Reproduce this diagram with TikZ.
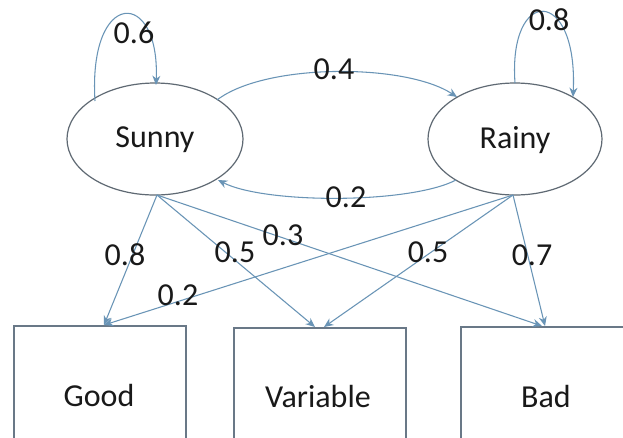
\documentclass[tikz,border=0pt]{standalone}
\usepackage{fontspec}
\setmainfont{Carlito}
\usetikzlibrary{arrows.meta}
\definecolor{arrowcol}{RGB}{105,148,182}
\definecolor{ellcol}{RGB}{95,105,115}
\definecolor{boxcol}{RGB}{105,120,135}
\definecolor{txtcol}{RGB}{25,25,25}
\begin{document}
\begin{tikzpicture}[x=0.75pt,y=-0.75pt,
  outbox/.style={draw=boxcol,line width=1pt,rectangle,inner sep=0pt},
  arr/.style={draw=arrowcol,line width=0.8pt,-{Stealth[length=7pt,width=6pt]}},
  lbl/.style={text=txtcol,font=\fontsize{24}{28}\selectfont,inner sep=0pt},
  nm/.style={text=txtcol,font=\fontsize{24}{28}\selectfont,inner sep=0pt}]
\clip (0,0) rectangle (623,437);
\fill[white] (0,0) rectangle (623,437);
% ellipses
\draw[draw=ellcol,line width=0.9pt] (155,139) ellipse [x radius=88,y radius=56];
\draw[draw=ellcol,line width=0.9pt] (515,139) ellipse [x radius=87,y radius=56];
\node[nm] (sunny) at (155,140) {Sunny};
\node[nm] (rainy) at (515,140) {Rainy};
% boxes
\draw[outbox] (14,326) rectangle (186,460);
\draw[outbox] (234,328) rectangle (406,460);
\draw[outbox] (461,327) rectangle (640,460);
\node[nm] (good) at (99,395) {Good};
\node[nm] (variable) at (318,396) {Variable};
\node[nm] (bad) at (546,396) {Bad};
% anchor coordinates
\coordinate (sb) at (157,195);
\coordinate (rb) at (513,195);
\coordinate (gt) at (104,325);
\coordinate (vt1) at (315,327);
\coordinate (vt2) at (324,327);
\coordinate (bt1) at (542,326);
\coordinate (bt2) at (545,326);
\coordinate (sl1) at (95,101);
\coordinate (sl2) at (156,85);
\coordinate (rl1) at (515,83);
\coordinate (rl2) at (573,97);
\coordinate (s2r1) at (217,100);
\coordinate (s2r2) at (457,97);
\coordinate (r2s1) at (456,180);
\coordinate (r2s2) at (218,180);
% self loops
\draw[arr] (sl1) .. controls (88,-12) and (160,-12) .. (sl2);
\draw[arr] (rl1) .. controls (508,-14) and (578,-14) .. (rl2);
% between states
\draw[arr] (s2r1) .. controls (265,63) and (405,63) .. (s2r2);
\draw[arr] (r2s1) .. controls (410,204) and (265,204) .. (r2s2);
% emissions
\draw[arr] (sb) -- (gt);
\draw[arr] (sb) -- (vt1);
\draw[arr] (sb) -- (bt1);
\draw[arr] (rb) -- (gt);
\draw[arr] (rb) -- (vt2);
\draw[arr] (rb) -- (bt2);
% labels
\node[lbl] (l06) at (134,33) {0.6};
\node[lbl] (l08a) at (549,20) {0.8};
\node[lbl] (l04) at (334,69) {0.4};
\node[lbl] (l02a) at (346,197) {0.2};
\node[lbl] (l08) at (125,255) {0.8};
\node[lbl] (l05a) at (235,252) {0.5};
\node[lbl] (l03) at (283,235) {0.3};
\node[lbl] (l02b) at (178,295) {0.2};
\node[lbl] (l05b) at (428,252) {0.5};
\node[lbl] (l07) at (532,255) {0.7};
\end{tikzpicture}
\end{document}
